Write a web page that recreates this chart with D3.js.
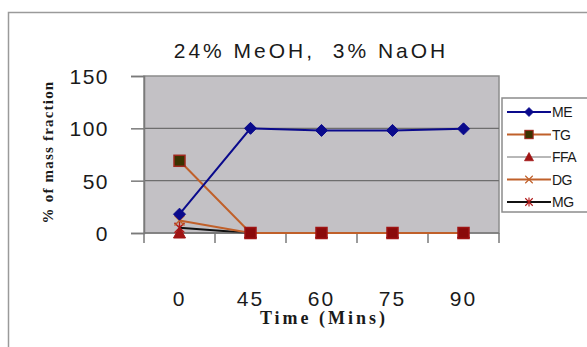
<!DOCTYPE html>
<html>
<head>
<meta charset="utf-8">
<script src="https://cdn.jsdelivr.net/npm/d3@7"></script>
<style>
  body { margin: 0; background: #fff; }
  svg { display: block; }
</style>
</head>
<body>
<svg id="chart" width="587" height="347"></svg>
<script>
// data
var times = ["0", "45", "60", "75", "90"]
var yTicks = [0, 50, 100, 150]
var ME = [18, 100, 98, 98, 99.5]
var TG = [69, 0, 0, 0, 0]
var FFA = [0, 0, 0, 0, 0]
var DG = [12, 0, 0, 0, 0]
var MG = [5, 0, 0, 0, 0]
var seriesNames = ["ME", "TG", "FFA", "DG", "MG"]

var series = [
  { name: "ME", values: ME, line: "#0a0a8c", width: 2, marker: "diamond", fill: "#0a0a8c", stroke: "#0a0a8c" },
  { name: "TG", values: TG, line: "#c0602a", width: 2, marker: "square", fill: "#3a3300", stroke: "#a0281e" },
  { name: "FFA", values: FFA, line: "#707070", width: 1, marker: "triangle", fill: "#a01414", stroke: "#a01414" },
  { name: "DG", values: DG, line: "#c0602a", width: 2, marker: "x", fill: "none", stroke: "#c0602a" },
  { name: "MG", values: MG, line: "#111111", width: 2, marker: "star", fill: "none", stroke: "#b01818" }
]

var svg = d3.select("#chart")
var margin = { left: 144, top: 76, right: 88, bottom: 114 }
var width = 587 - margin.left - margin.right
var height = 347 - margin.top - margin.bottom

// outer frame
svg.append("rect")
  .attr("x", 8.5).attr("y", 12.5)
  .attr("width", 600).attr("height", 400)
  .attr("fill", "none").attr("stroke", "#9a9a9a").attr("stroke-width", 1.5)

svg.append("text")
  .attr("x", 311).attr("y", 58)
  .attr("text-anchor", "middle")
  .attr("xml:space", "preserve")
  .style("font-family", "Liberation Sans, Arial, sans-serif")
  .style("font-size", "21px")
  .style("letter-spacing", "3px")
  .attr("fill", "#1a1a1a")
  .text("24% MeOH,  3% NaOH")

var chart = svg.append("g")
  .attr("transform", "translate(" + margin.left + "," + margin.top + ")")

var x = d3.scaleBand().domain(times).range([0, width])
var y = d3.scaleLinear().domain([0, 150]).range([height, 0])

chart.append("rect")
  .attr("width", width).attr("height", height)
  .attr("fill", "#c3c1c5")
  .attr("stroke", "#8c8c8c").attr("stroke-width", 1.5)

// gridlines
chart.selectAll(".grid")
  .data(yTicks.slice(1, 3))
  .enter().append("line")
  .attr("x1", 0).attr("x2", width)
  .attr("y1", function (d) { return y(d) }).attr("y2", function (d) { return y(d) })
  .attr("stroke", "#6e6e6e").attr("stroke-width", 1.2)

// y axis
var yAxis = chart.append("g")
  .call(d3.axisLeft(y).tickValues(yTicks).tickSize(13).tickPadding(22))
yAxis.select(".domain").attr("stroke", "#7a7a7a").attr("stroke-width", 1.5)
yAxis.selectAll(".tick line").attr("stroke", "#7a7a7a").attr("stroke-width", 1.5)
yAxis.selectAll("text")
  .style("font-family", "Liberation Sans, Arial, sans-serif")
  .style("font-size", "21px")
  .style("letter-spacing", "1.5px")
  .attr("fill", "#1a1a1a")
  .attr("dy", "0.36em")

// x axis
var xAxis = chart.append("g")
  .attr("transform", "translate(0," + height + ")")
xAxis.append("line")
  .attr("x1", 0).attr("x2", width)
  .attr("stroke", "#7a7a7a").attr("stroke-width", 1.5)
xAxis.selectAll(".xtick")
  .data(d3.range(times.length + 1))
  .enter().append("line")
  .attr("x1", function (i) { return i * x.step() }).attr("x2", function (i) { return i * x.step() })
  .attr("y1", 0).attr("y2", 10)
  .attr("stroke", "#7a7a7a").attr("stroke-width", 1.5)
xAxis.selectAll(".xlab")
  .data(times)
  .enter().append("text")
  .attr("x", function (d) { return x(d) + x.bandwidth() / 2 })
  .attr("y", 73)
  .attr("text-anchor", "middle")
  .style("font-family", "Liberation Sans, Arial, sans-serif")
  .style("font-size", "21px")
  .style("letter-spacing", "2px")
  .attr("fill", "#1a1a1a")
  .text(function (d) { return d })

// axis titles
svg.append("text")
  .attr("x", 324).attr("y", 324)
  .attr("text-anchor", "middle")
  .style("font-family", "Liberation Serif, Times New Roman, serif")
  .style("font-weight", "bold")
  .style("font-size", "18px")
  .style("letter-spacing", "3px")
  .attr("fill", "#1a1a1a")
  .text("Time (Mins)")

svg.append("text")
  .attr("transform", "translate(53,152) rotate(-90)")
  .attr("text-anchor", "middle")
  .style("font-family", "Liberation Serif, Times New Roman, serif")
  .style("font-weight", "bold")
  .style("font-size", "15px")
  .style("letter-spacing", "1.2px")
  .attr("fill", "#1a1a1a")
  .text("% of mass fraction")

function drawMarker(g, type, fill, stroke) {
  if (type == "diamond") {
    g.append("path").attr("d", "M0,-6L6,0L0,6L-6,0Z").attr("fill", fill).attr("stroke", stroke)
  } else if (type == "square") {
    g.append("rect").attr("x", -5.5).attr("y", -5.5).attr("width", 11).attr("height", 11)
      .attr("fill", fill).attr("stroke", stroke).attr("stroke-width", 1.5)
  } else if (type == "triangle") {
    g.append("path").attr("d", "M0,-6L6,5L-6,5Z").attr("fill", fill).attr("stroke", stroke)
  } else if (type == "x") {
    g.append("path").attr("d", "M-5,-5L5,5M5,-5L-5,5").attr("stroke", stroke).attr("stroke-width", 1.5)
  } else if (type == "star") {
    g.append("path").attr("d", "M-5,-5L5,5M5,-5L-5,5M0,-6L0,6").attr("stroke", stroke).attr("stroke-width", 1.5)
  }
}

var line = d3.line()
  .x(function (d, i) { return x(times[i]) + x.bandwidth() / 2 })
  .y(function (d) { return y(d) })

// draw in reverse so ME sits on top
series.slice().reverse().forEach(function (s) {
  chart.append("path")
    .datum(s.values)
    .attr("d", line)
    .attr("fill", "none")
    .attr("stroke", s.line)
    .attr("stroke-width", s.width)
  s.values.forEach(function (v, i) {
    var g = chart.append("g")
      .attr("transform", "translate(" + (x(times[i]) + x.bandwidth() / 2) + "," + y(v) + ")")
    var f = s.fill, st = s.stroke
    if (s.name == "TG" && i > 0) { f = "#8a0a0a"; st = "#a01414" }
    drawMarker(g, s.marker, f, st)
  })
})

// legend
var legend = svg.append("g")
  .attr("transform", "translate(502,98)")
legend.append("rect")
  .attr("width", 100).attr("height", 114)
  .attr("fill", "#fff").attr("stroke", "#8c8c8c").attr("stroke-width", 1.5)

var items = legend.selectAll(".item")
  .data(series)
  .enter().append("g")
  .attr("transform", function (d, i) { return "translate(0," + (14 + i * 22.5) + ")" })

items.append("line")
  .attr("x1", 5).attr("x2", 49)
  .attr("stroke", function (d) { return d.line })
  .attr("stroke-width", function (d) { return d.width })
items.each(function (d) {
  var g = d3.select(this).append("g").attr("transform", "translate(27,0) scale(0.75)")
  drawMarker(g, d.marker, d.fill, d.stroke)
})
items.append("text")
  .attr("x", 50).attr("y", 5)
  .style("font-family", "Liberation Sans, Arial, sans-serif")
  .style("font-size", "14px")
  .style("letter-spacing", "-0.5px")
  .attr("fill", "#1a1a1a")
  .text(function (d) { return d.name })
</script>
</body>
</html>
